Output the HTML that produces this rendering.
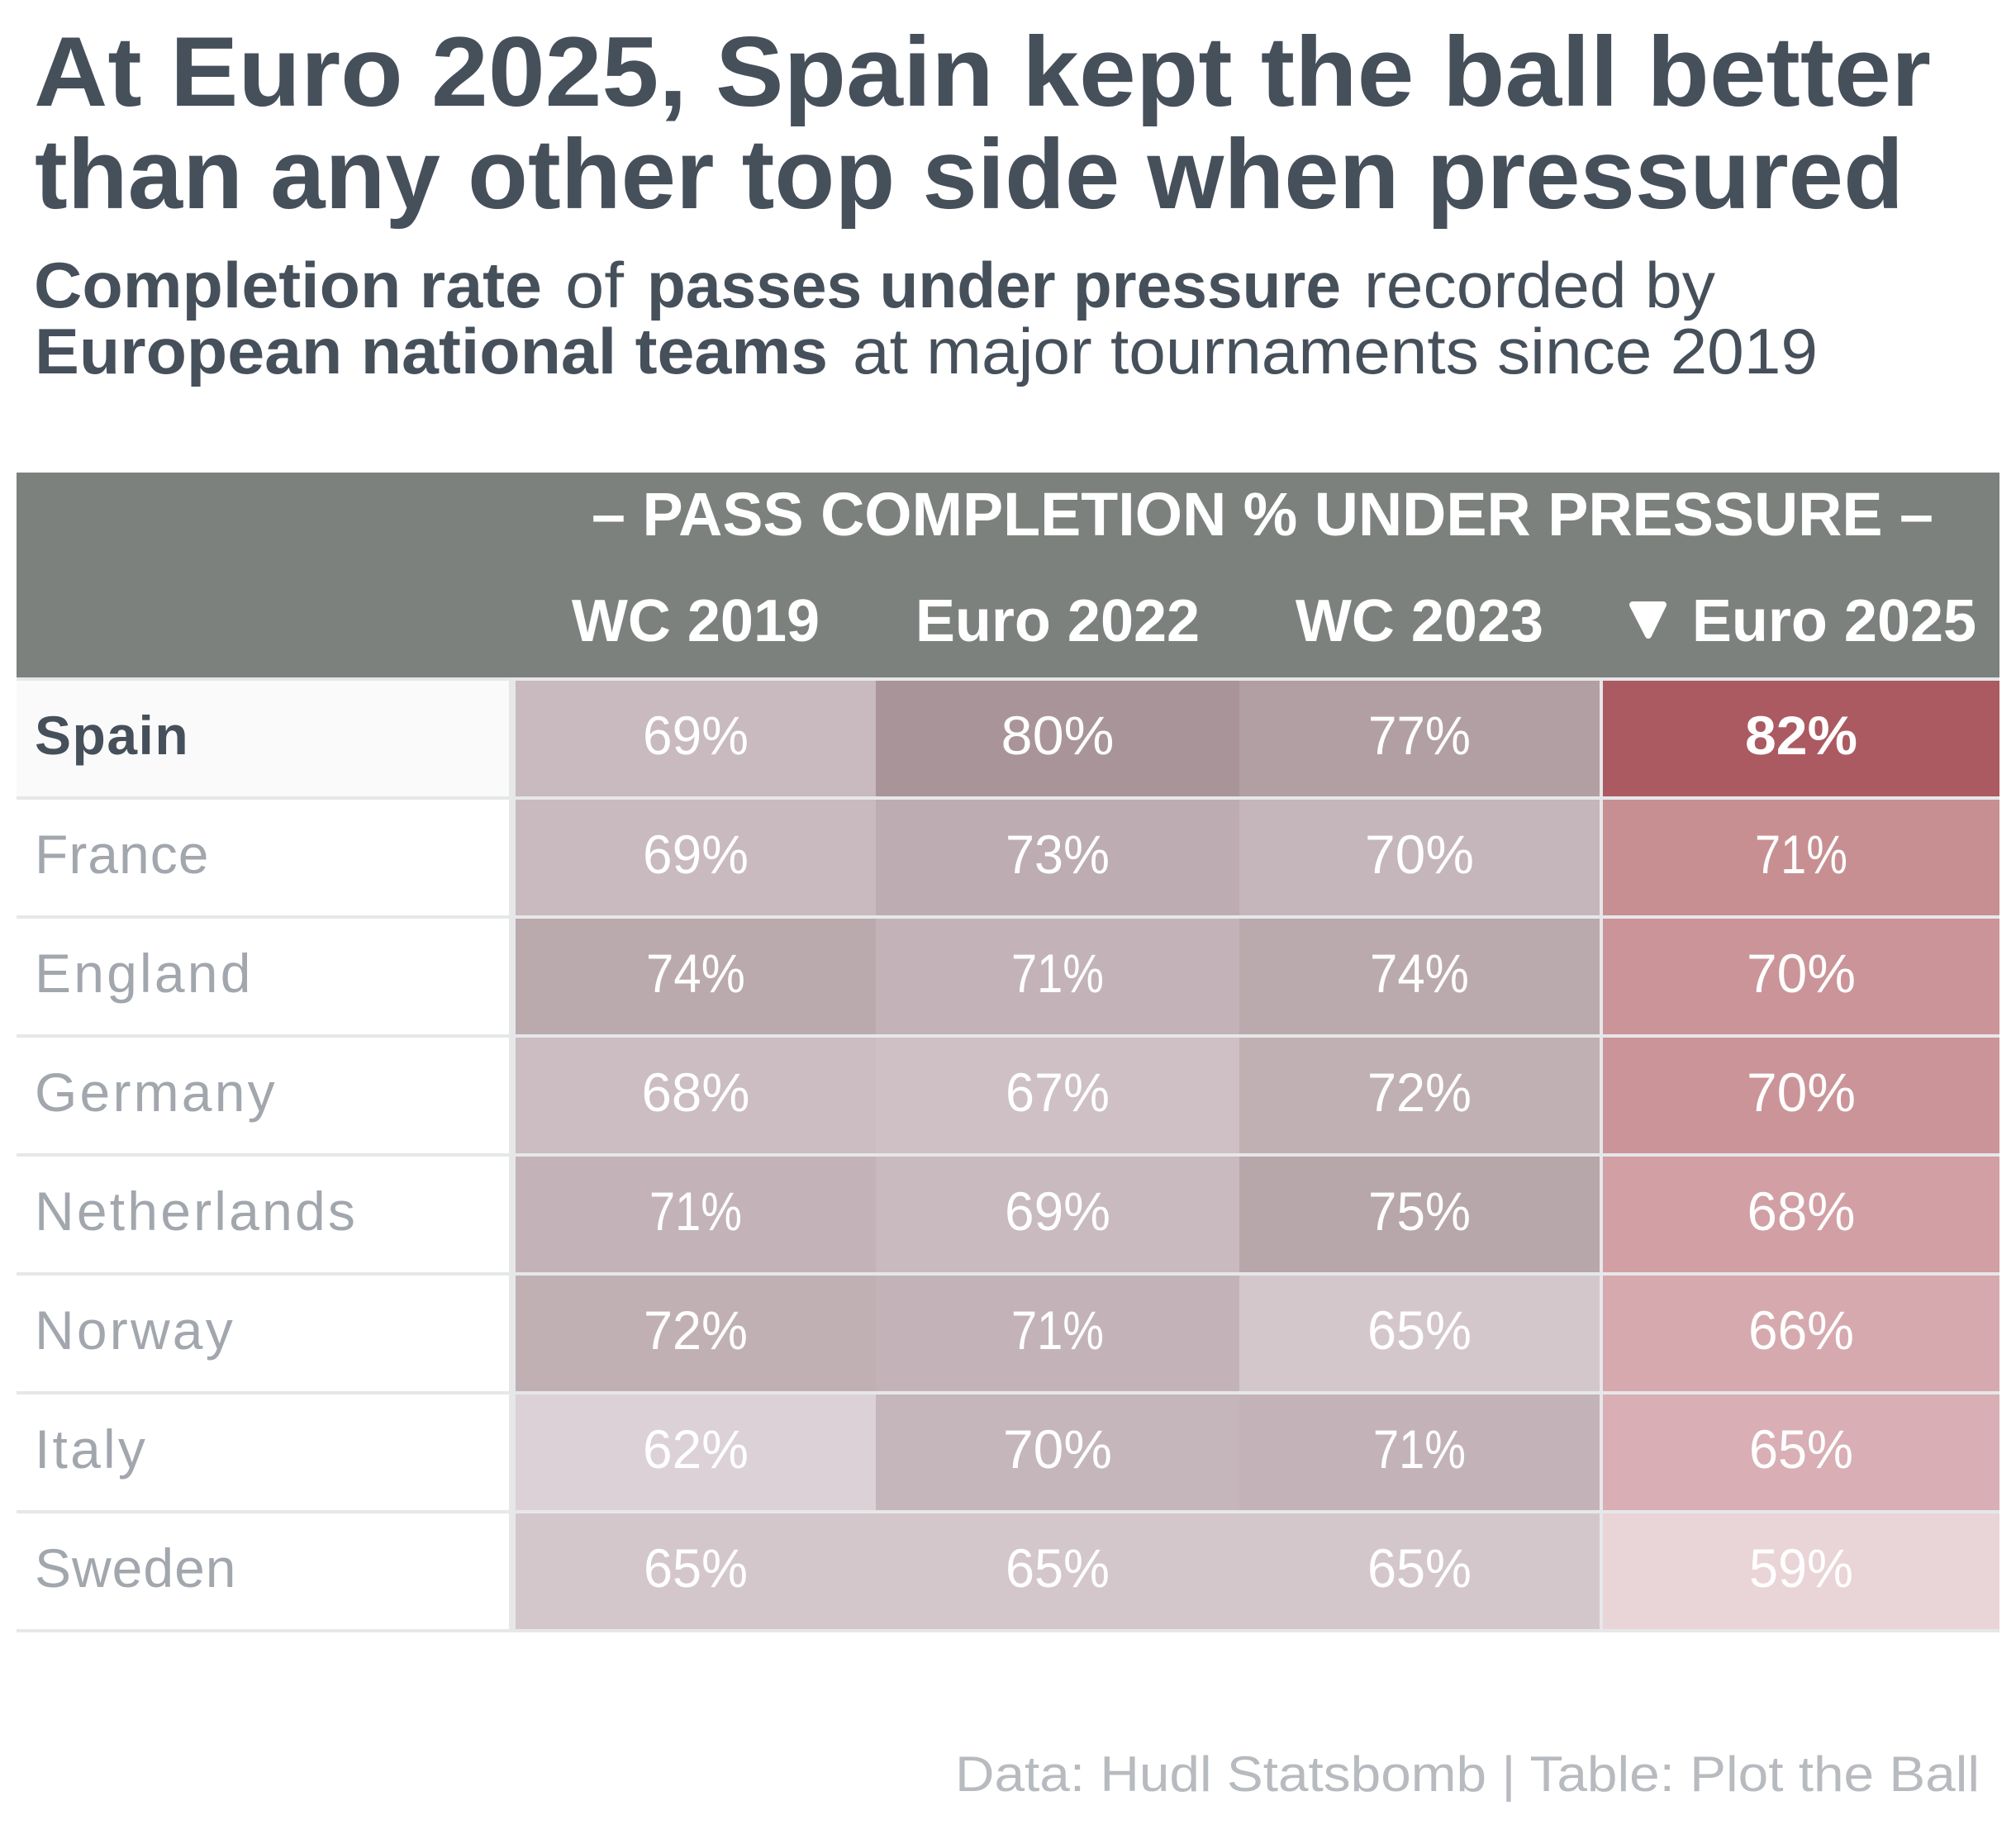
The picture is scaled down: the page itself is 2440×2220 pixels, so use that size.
<!DOCTYPE html>
<html lang="en">
<head>
<meta charset="utf-8">
<title>Pass completion under pressure</title>
<style>
html,body{margin:0;padding:0;background:#fff;}
svg{display:block;font-family:"Liberation Sans",sans-serif;}
.t{fill:#46505b;}
</style>
</head>
<body>
<svg id="chart" xmlns="http://www.w3.org/2000/svg" width="2440" height="2220" viewBox="0 0 2440 2220">
  <rect width="2440" height="2220" fill="#ffffff"/>
  <text class="t" x="41" y="128" font-size="120" font-weight="700" textLength="2296" lengthAdjust="spacingAndGlyphs">At Euro 2025, Spain kept the ball better</text>
  <text class="t" x="42" y="252" font-size="120" font-weight="700" textLength="2262" lengthAdjust="spacingAndGlyphs">than any other top side when pressured</text>
  <g font-size="78">
    <text class="t" x="41" y="372" font-weight="700" textLength="615" lengthAdjust="spacingAndGlyphs">Completion rate</text>
    <text class="t" x="684" y="372" textLength="71" lengthAdjust="spacingAndGlyphs">of</text>
    <text class="t" x="783" y="372" font-weight="700" textLength="840" lengthAdjust="spacingAndGlyphs">passes under pressure</text>
    <text class="t" x="1651" y="372" textLength="425" lengthAdjust="spacingAndGlyphs">recorded by</text>
    <text class="t" x="42" y="452" font-weight="700" textLength="960" lengthAdjust="spacingAndGlyphs">European national teams</text>
    <text class="t" x="1032" y="452" textLength="1168" lengthAdjust="spacingAndGlyphs">at major tournaments since 2019</text>
  </g>
  <rect x="20" y="572" width="2400" height="248" fill="#7c817e"/>
  <text x="716" y="648" font-size="74" font-weight="700" fill="#ffffff" textLength="1624" lengthAdjust="spacingAndGlyphs">– PASS COMPLETION % UNDER PRESSURE –</text>
  <polygon points="1976,732 2013,732 1995,769" fill="#ffffff" stroke="#ffffff" stroke-width="8" stroke-linejoin="round"/>
  <g id="table-body"></g>
  <text x="1156" y="2168" font-size="60" fill="#b7babe" textLength="1240" lengthAdjust="spacingAndGlyphs">Data: Hudl Statsbomb | Table: Plot the Ball</text>
</svg>
<script>
const teams = ["Spain", "France", "England", "Germany", "Netherlands", "Norway", "Italy", "Sweden"];
const tournaments = ["WC 2019", "Euro 2022", "WC 2023", "Euro 2025"];
const wc2019 = [69, 69, 74, 68, 71, 72, 62, 65];
const euro2022 = [80, 73, 71, 67, 69, 71, 70, 65];
const wc2023 = [77, 70, 74, 72, 75, 65, 71, 65];
const euro2025 = [82, 71, 70, 70, 68, 66, 65, 59];
const series = [wc2019, euro2022, wc2023, euro2025];

const svgNS = "http://www.w3.org/2000/svg";
const body = document.getElementById("table-body");

function snap(v) { return Math.floor(v / 4) * 4; }
function colLeft(c) { return snap(624 + 438 * c) + (c === 3 ? 4 : 0); }
function colRight(c) { return c === 3 ? 2420 : snap(624 + 438 * (c + 1)); }
function colCenter(c) { return (colLeft(c) + colRight(c)) / 2; }
function rowTop(r) { return 824 + 144 * r; }
function rowBaseline(r) { return rowTop(r) + 89; }

function mix(a, b, t) {
  return "rgb(" + a.map((v, i) => Math.round(v + (b[i] - v) * t)).join(",") + ")";
}
function mutedColor(v) {
  const t = (v - 62) / 18;
  return mix([220, 209, 214], [169, 149, 153], t);
}
function highlightColor(v) {
  if (v <= 65) return mix([233, 212, 216], [217, 174, 181], (v - 59) / 6);
  if (v <= 71) return mix([217, 174, 181], [200, 143, 147], (v - 65) / 6);
  return mix([200, 143, 147], [171, 90, 97], (v - 71) / 11);
}
function cellColor(c, v) { return c === 3 ? highlightColor(v) : mutedColor(v); }

// approximate rendered width of a printed value, so narrow digits take less room
function valueWidth(v, bold) {
  const glyph = { "0": 43, "1": 23, "2": 37, "3": 37, "4": 31, "5": 35, "6": 37, "7": 35, "8": 40, "9": 37 };
  const w = String(v).split("").reduce((sum, d) => sum + glyph[d], 54);
  return bold ? w + 5 : w;
}

function make(tag, attrs, text) {
  const el = document.createElementNS(svgNS, tag);
  for (const k in attrs) el.setAttribute(k, attrs[k]);
  if (text !== undefined) el.textContent = text;
  body.appendChild(el);
  return el;
}

// column headers
tournaments.forEach((name, c) => {
  const head = make("text", {
    x: colCenter(c) + (c === 3 ? 40 : 0), y: 776, "font-size": 72, "font-weight": 700,
    fill: "#ffffff", "text-anchor": "middle"
  }, name);
  
  
});

// row stubs
teams.forEach((team, r) => {
  if (r === 0) {
    const hl = make("rect", { x: 20, y: rowTop(r), width: 596, height: 140, fill: "#fafafa" });
    
    
  }
  const label = make("text", {
    x: 42, y: rowBaseline(r), "font-size": 66,
    "font-weight": r === 0 ? 700 : 400,
    fill: r === 0 ? "#46505b" : "#a2a7ae",
    "letter-spacing": r === 0 ? 1.5 : (team.length > 6 || team.charAt(0) === "N" || team.charAt(0) === "I" ? 3.2 : 1)
  }, team);
  
  
});

// heatmap cells and printed values
series.forEach((values, c) => {
  values.forEach((v, r) => {
    const cell = make("rect", {
      x: colLeft(c), y: rowTop(r),
      width: colRight(c) - colLeft(c), height: 140,
      fill: cellColor(c, v)
    });
    
    
    const bold = c === 3 && r === 0;
    const label = make("text", {
      x: colCenter(c), y: rowBaseline(r), "font-size": 66,
      "font-weight": bold ? 700 : 400, fill: "#ffffff", "text-anchor": "middle",
      textLength: valueWidth(v, bold), lengthAdjust: "spacingAndGlyphs"
    }, v + "%");
    
    
  });
});

// horizontal rules
for (let r = 0; r <= teams.length; r++) {
  const rule = make("rect", { x: 20, y: rowTop(r) - 4, width: 2400, height: 4, fill: "#e6e7e9" });
  
  
}

// vertical rules
const stubRule = make("rect", { x: 616, y: 824, width: 8, height: 1148, fill: "#e6e7e9" });


const highlightRule = make("rect", { x: 1936, y: 824, width: 4, height: 1148, fill: "#e6e7e9" });


</script>
</body>
</html>
